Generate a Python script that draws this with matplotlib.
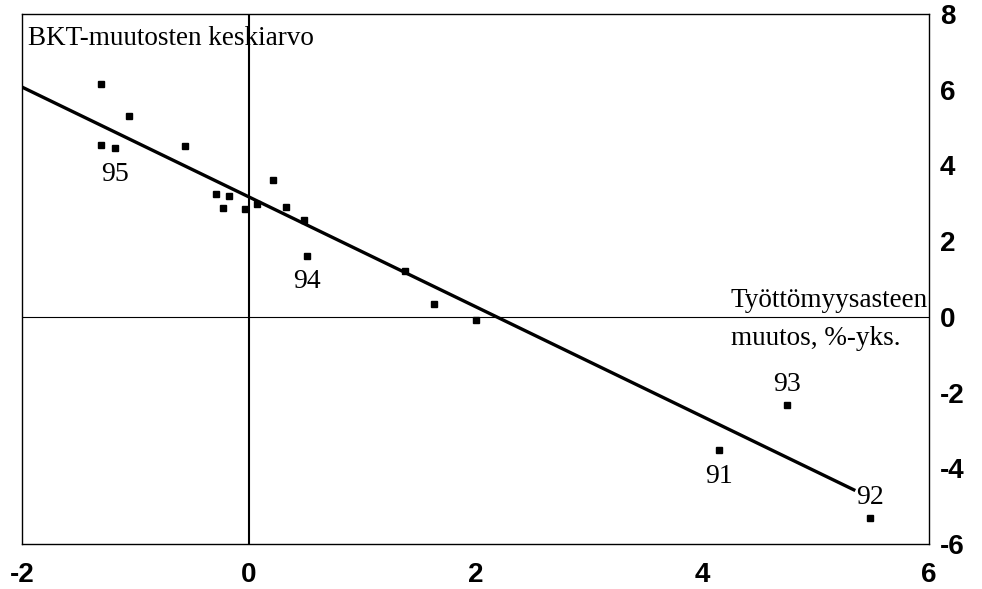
import matplotlib.pyplot as plt
import numpy as np

plt.rcParams["axes.unicode_minus"] = False

# unemployment change (x) vs average GDP change (y)
x_vals = [-1.30, -1.06, -1.30, -1.18, -0.56, -0.29, -0.17, -0.23, -0.03, 0.07,
          0.21, 0.33, 0.49, 0.51, 1.38, 1.63, 2.00, 4.75, 4.15, 5.48]
y_vals = [6.15, 5.30, 4.54, 4.46, 4.52, 3.25, 3.20, 2.87, 2.85, 2.99,
          3.62, 2.89, 2.57, 1.62, 1.20, 0.34, -0.07, -2.34, -3.53, -5.32]

# labelled years: (index into data, label, above?)
year_labels = [(3, "95", False), (13, "94", False), (17, "93", True),
               (18, "91", False), (19, "92", True)]

# trend line
trend_intercept = 3.17
trend_slope = -1.45
trend_range = [-2.0, 5.35]

x_ticks = [-2, 0, 2, 4, 6]
y_ticks = [-6, -4, -2, 0, 2, 4, 6, 8]

serif = "Liberation Serif"
sans = "Liberation Sans"

fig = plt.figure(figsize=(9.82, 5.89), dpi=100)
ax = fig.add_axes([22 / 982, 45 / 589, 907 / 982, 530 / 589])

ax.set_xlim(-2, 6)
ax.set_ylim(-6, 8)

ax.axvline(0, color="black", lw=1.5, zorder=1)
ax.axhline(0, color="black", lw=0.8, zorder=1)

tx = np.array(trend_range)
ax.plot(tx, trend_intercept + trend_slope * tx, color="black", lw=2.4, zorder=2,
        solid_capstyle="butt")

ax.plot(x_vals, y_vals, "s", color="black", ms=4.3, zorder=3)

for i, lab, above in year_labels:
    dy = 15 if above else -19
    ax.annotate(lab, (x_vals[i], y_vals[i]), xytext=(0, dy), textcoords="offset points",
                ha="center", va="center", fontsize=20, family=serif)

ax.text(-1.95, 7.35, "BKT-muutosten keskiarvo", ha="left", va="center",
        fontsize=19.5, family=serif)
ax.text(4.25, 0.42, "Työttömyysasteen", ha="left", va="center",
        fontsize=19.5, family=serif)
ax.text(4.25, -0.58, "muutos, %-yks.", ha="left", va="center",
        fontsize=19.5, family=serif)

ax.set_xticks(x_ticks)
ax.set_yticks(y_ticks)
ax.yaxis.tick_right()
ax.tick_params(axis="both", length=0, labelsize=20)
ax.tick_params(axis="x", pad=13)
ax.tick_params(axis="y", pad=8)
for lbl in ax.get_xticklabels() + ax.get_yticklabels():
    lbl.set_family(sans)
    lbl.set_fontweight("bold")

for s in ax.spines.values():
    s.set_linewidth(1.0)

fig.savefig("out.png", dpi=100)
